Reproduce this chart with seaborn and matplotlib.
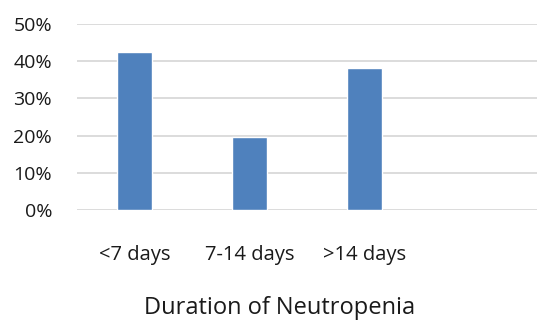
import matplotlib
matplotlib.use("Agg")
import matplotlib.pyplot as plt
import seaborn as sns
import pandas as pd
from matplotlib.ticker import PercentFormatter

categories = ["<7 days", "7-14 days", ">14 days"]
values = [0.424, 0.196, 0.382]
yticks = [0, 0.1, 0.2, 0.3, 0.4, 0.5]

sns.set_theme(style="white")
plt.rcParams['font.family'] = ['Open Sans', 'DejaVu Sans']

df = pd.DataFrame({"cat": categories, "val": values})

fig = plt.figure(figsize=(5.37, 3.2), dpi=100)
ax = fig.add_axes([77/537, 1 - 210/320, 1 - 77/537, 186/320])
sns.barplot(data=df, x="cat", y="val", color="#4f81bd", width=0.31,
            saturation=1, ax=ax, zorder=3)
ax.set_xlim(-0.5, 3.5)
ax.set_ylim(0, 0.5)
ax.set_yticks(yticks)
ax.yaxis.set_major_formatter(PercentFormatter(1.0, decimals=0))
ax.grid(axis="y", color="#d9d9d9", linewidth=1.3, zorder=0)
ax.grid(axis="x", visible=False)
for s in ax.spines.values():
    s.set_visible(False)
ax.tick_params(axis="y", length=0, pad=18, labelsize=14, labelcolor="#1a1a1a")
ax.tick_params(axis="x", length=0, pad=25, labelsize=14.5, labelcolor="#1a1a1a")
ax.set_ylabel("")
ax.set_xlabel("")
fig.text(280/537, 1 - 308/320, "Duration of Neutropenia", ha="center", va="center",
         fontsize=17, color="#1a1a1a")
fig.savefig("out.png", dpi=100)
